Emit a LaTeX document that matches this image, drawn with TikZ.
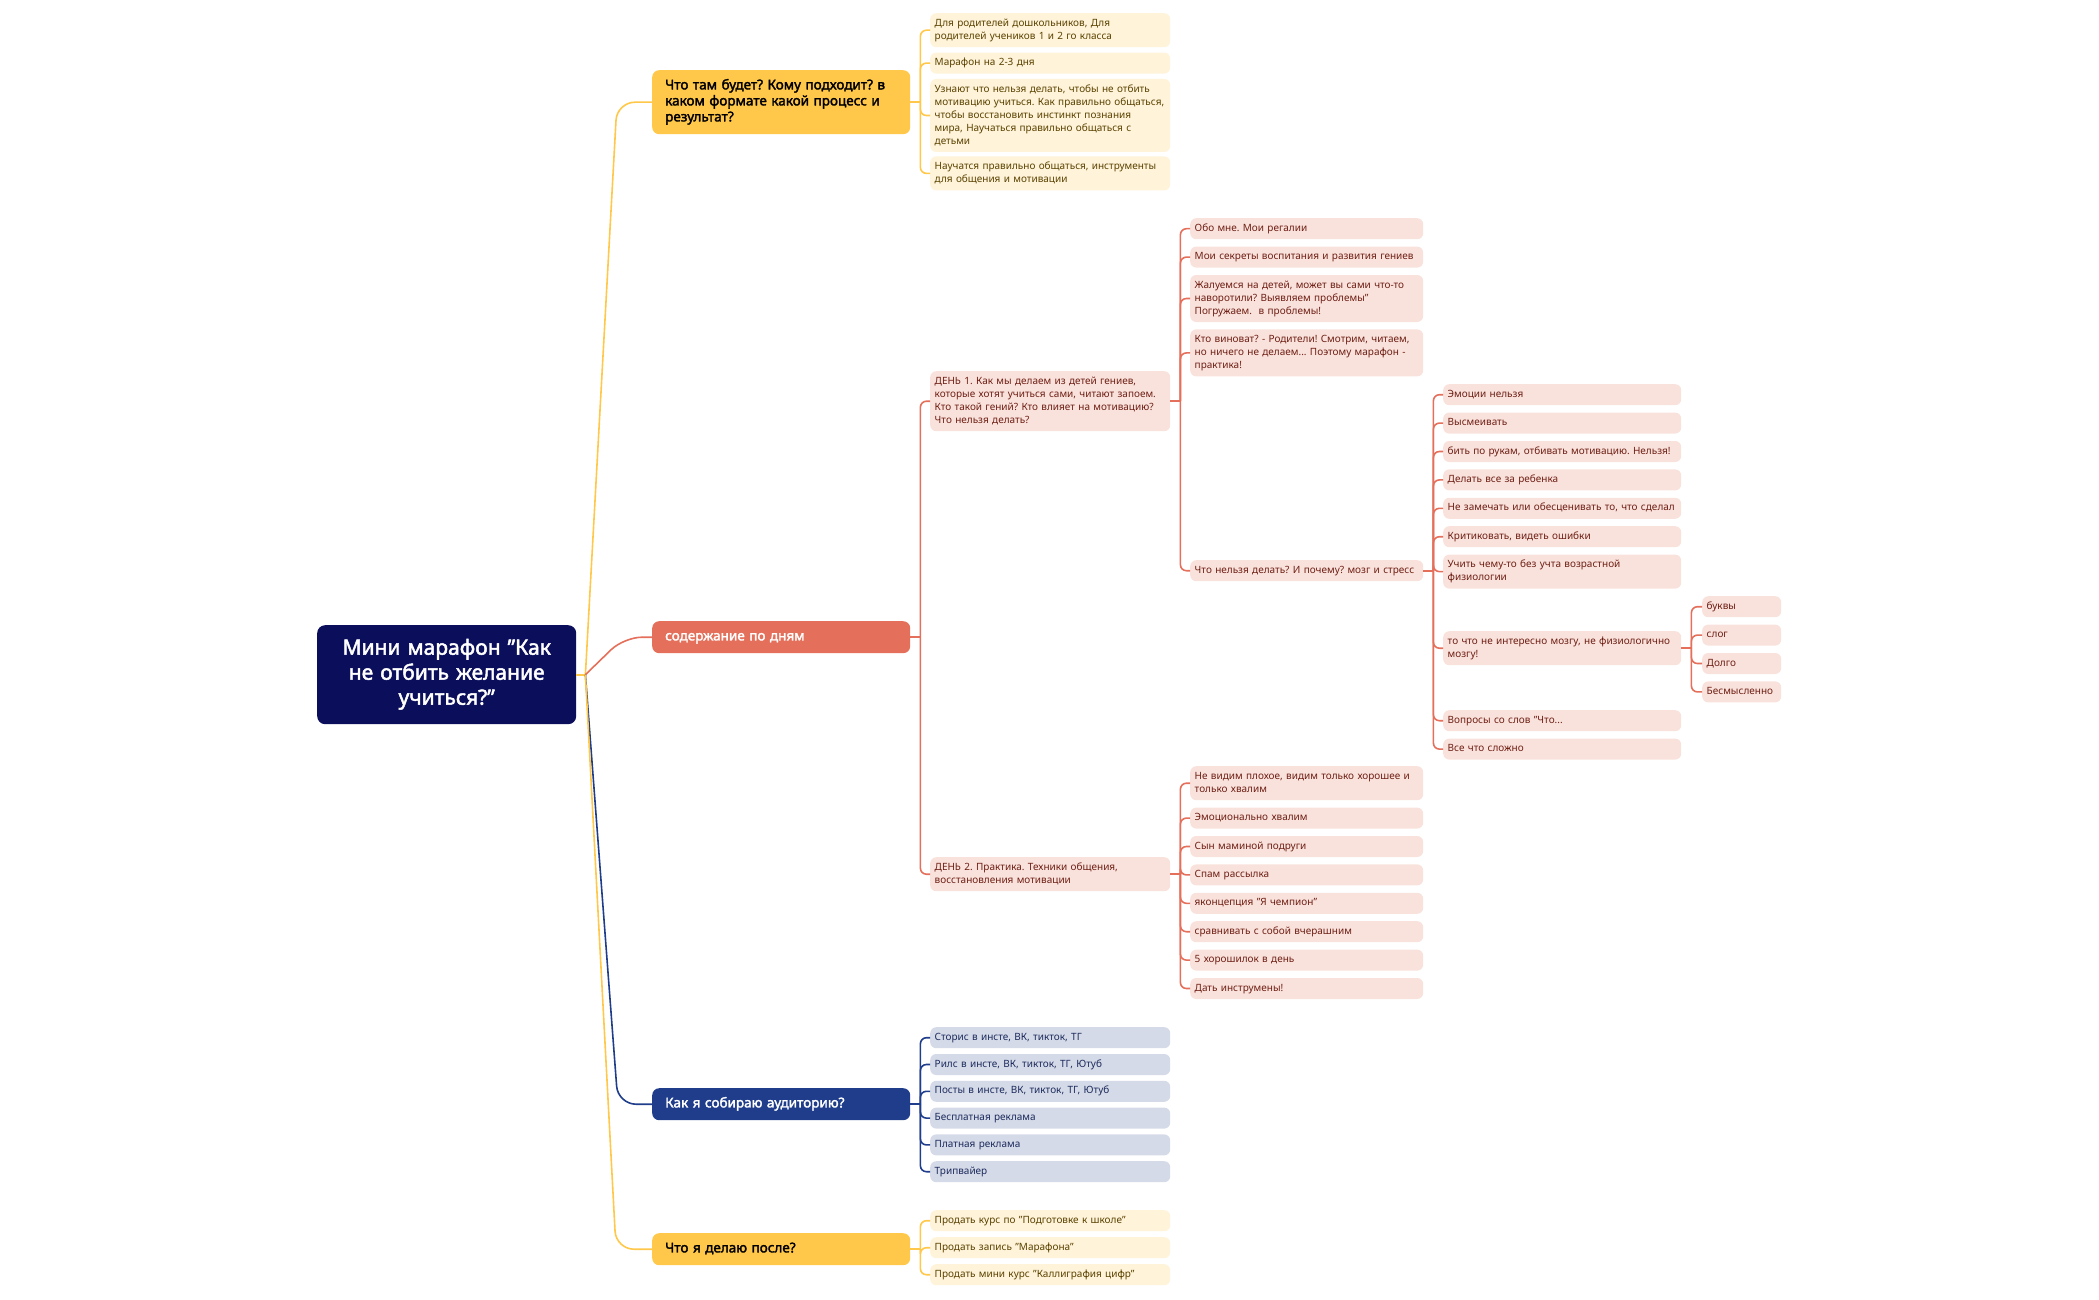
\documentclass[tikz,border=0pt]{standalone}
\usepackage{fontspec}
\setmainfont{Noto Sans}[AutoFakeBold=2.2]
\usetikzlibrary{positioning}
\frenchspacing

\definecolor{rootblue}{HTML}{0B0E5B}
\definecolor{sunny}{HTML}{FFC84A}
\definecolor{coral}{HTML}{E46F5A}
\definecolor{navy}{HTML}{1F3D8A}
\definecolor{sunnyleaf}{HTML}{FFF3D9}
\definecolor{coralleaf}{HTML}{FAE2DC}
\definecolor{navyleaf}{HTML}{D5DAE8}
\definecolor{sunnytext}{HTML}{5A4200}
\definecolor{coraltext}{HTML}{6D1F14}
\definecolor{navytext}{HTML}{1C2B5C}

\newcommand{\rootfont}{\fontsize{21}{25}\selectfont\bfseries}
\newcommand{\topicfont}{\fontsize{13.5}{16}\selectfont\bfseries}
\newcommand{\leaffont}{\fontsize{10}{13}\selectfont}

\begin{document}
\begin{tikzpicture}[x=1pt, y=-1pt,
  root/.style={rectangle, rounded corners=8pt, fill=rootblue, text=white, text width=235pt, inner xsep=12pt, inner ysep=12pt, align=center, font=\rootfont, anchor=north west, execute at begin node=\strut, execute at end node=\strut},
  topic/.style={rectangle, rounded corners=7pt, text width=232pt, inner xsep=13pt, inner ysep=8pt, align=left, font=\topicfont, anchor=north west, execute at begin node=\strut, execute at end node=\strut},
  leaf/.style={rectangle, rounded corners=6pt, inner xsep=4.5pt, inner ysep=4pt, align=left, font=\leaffont, anchor=north west, execute at begin node=\strut, execute at end node=\strut},
  yleaf/.style={leaf, fill=sunnyleaf, text=sunnytext, text width=231pt},
  bleaf/.style={leaf, fill=navyleaf, text=navytext, text width=231pt},
  rleaf/.style={leaf, fill=coralleaf, text=coraltext, text width=#1},
  rleaf/.default=224pt,
  ylink/.style={draw=sunny, line width=1.6pt},
  rlink/.style={draw=coral, line width=1.6pt},
  blink/.style={draw=navy, line width=1.6pt}]
\useasboundingbox (0,0) rectangle (2099,1300);

% centre and main topics
\node[root] (root) at (317,625) {Мини марафон "Как\\не отбить желание\\учиться?"};
\node[topic, fill=sunny, text=black] (what) at (652,70) {Что там будет? Кому подходит? в\\каком формате какой процесс и\\результат?};
\node[topic, fill=coral, text=white] (days) at (652,621) {содержание по дням};
\node[topic, fill=navy, text=white] (aud) at (652,1088) {Как я собираю аудиторию?};
\node[topic, fill=sunny, text=black] (after) at (652,1233) {Что я делаю после?};

% what
\node[yleaf] (what1) at (930,13) {Для родителей дошкольников, Для\\родителей учеников 1 и 2 го класса};
\node[yleaf, below=5pt of what1] (what2) {Марафон на 2-3 дня};
\node[yleaf, below=5pt of what2] (what3) {Узнают что нельзя делать, чтобы не отбить\\мотивацию учиться. Как правильно общаться,\\чтобы восстановить инстинкт познания\\мира, Научаться правильно общаться с\\детьми};
\node[yleaf, below=4pt of what3] (what4) {Научатся правильно общаться, инструменты\\для общения и мотивации};

% days
\node[rleaf=231pt] (day1) at (930,371) {ДЕНЬ 1. Как мы делаем из детей гениев,\\которые хотят учиться сами, читают запоем.\\Кто такой гений? Кто влияет на мотивацию?\\Что нельзя делать?};
\node[rleaf=231pt] (day2) at (930,857) {ДЕНЬ 2. Практика. Техники общения,\\восстановления мотивации};

\node[rleaf] (me1) at (1190,218) {Обо мне. Мои регалии};
\node[rleaf, below=7pt of me1] (me2) {Мои секреты воспитания и развития гениев};
\node[rleaf, below=7pt of me2] (me3) {Жалуемся на детей, может вы сами что-то\\наворотили? Выявляем проблемы"\\Погружаем.\ \ в проблемы!};
\node[rleaf, below=7pt of me3] (me4) {Кто виноват? - Родители! Смотрим, читаем,\\но ничего не делаем... Поэтому марафон -\\практика!};
\node[rleaf] (me5) at (1190,560) {Что нельзя делать? И почему? мозг и стресс};

\node[rleaf=229pt] (no1) at (1443,384) {Эмоции нельзя};
\node[rleaf=229pt, below=7pt of no1] (no2) {Высмеивать};
\node[rleaf=229pt, below=7pt of no2] (no3) {бить по рукам, отбивать мотивацию. Нельзя!};
\node[rleaf=229pt, below=7pt of no3] (no4) {Делать все за ребенка};
\node[rleaf=229pt, below=7pt of no4] (no5) {Не замечать или обесценивать то, что сделал};
\node[rleaf=229pt, below=7pt of no5] (no6) {Критиковать, видеть ошибки};
\node[rleaf=229pt, below=7pt of no6] (no7) {Учить чему-то без учта возрастной\\физиологии};
\node[rleaf=229pt] (no8) at (1443,631) {то что не интересно мозгу, не физиологично\\мозгу!};
\node[rleaf=229pt] (no9) at (1443,710) {Вопросы со слов "Что...};
\node[rleaf=229pt, below=7pt of no9] (no10) {Все что сложно};

\node[rleaf=70pt] (brain1) at (1702,596) {буквы};
\node[rleaf=70pt, below=7pt of brain1] (brain2) {слог};
\node[rleaf=70pt, below=7pt of brain2] (brain3) {Долго};
\node[rleaf=70pt, below=7pt of brain3] (brain4) {Бесмысленно};

\node[rleaf] (pr1) at (1190,766) {Не видим плохое, видим только хорошее и\\только хвалим};
\node[rleaf, below=7pt of pr1] (pr2) {Эмоционально хвалим};
\node[rleaf, below=7pt of pr2] (pr3) {Сын маминой подруги};
\node[rleaf, below=7pt of pr3] (pr4) {Спам рассылка};
\node[rleaf, below=7pt of pr4] (pr5) {яконцепция "Я чемпион"};
\node[rleaf, below=7pt of pr5] (pr6) {сравнивать с собой вчерашним};
\node[rleaf, below=7pt of pr6] (pr7) {5 хорошилок в день};
\node[rleaf, below=7pt of pr7] (pr8) {Дать инструмены!};

% audience
\node[bleaf] (aud1) at (930,1027) {Сторис в инсте, ВК, тикток, ТГ};
\node[bleaf, below=5.4pt of aud1] (aud2) {Рилс в инсте, ВК, тикток, ТГ, Ютуб};
\node[bleaf, below=5.4pt of aud2] (aud3) {Посты в инсте, ВК, тикток, ТГ, Ютуб};
\node[bleaf, below=5.4pt of aud3] (aud4) {Бесплатная реклама};
\node[bleaf, below=5.4pt of aud4] (aud5) {Платная реклама};
\node[bleaf, below=5.4pt of aud5] (aud6) {Трипвайер};

% after
\node[yleaf] (aft1) at (930,1210) {Продать курс по "Подготовке к школе"};
\node[yleaf, below=5.6pt of aft1] (aft2) {Продать запись "Марафона"};
\node[yleaf, below=5.6pt of aft2] (aft3) {Продать мини курс "Каллиграфия цифр"};

% links from the centre
\coordinate (jr) at ([xshift=9pt]root.east);
\draw[ylink] (root.east) -- (jr);
\draw[ylink, rounded corners=18pt] (jr) -- ([xshift=-35pt]what.west) -- (what.west);
\draw[rlink, rounded corners=18pt] (jr) -- ([xshift=-28pt]days.west) -- (days.west);
\draw[blink, rounded corners=18pt] (jr) -- ([xshift=-34pt]aud.west) -- (aud.west);
\draw[ylink, rounded corners=18pt] (jr) -- ([xshift=-36pt]after.west) -- (after.west);

% links to the leaves
\foreach \p/\kids/\lk in {what/{what1,what2,what3,what4}/ylink,
    days/{day1,day2}/rlink, day1/{me1,me2,me3,me4,me5}/rlink,
    me5/{no1,no2,no3,no4,no5,no6,no7,no8,no9,no10}/rlink,
    no8/{brain1,brain2,brain3,brain4}/rlink,
    day2/{pr1,pr2,pr3,pr4,pr5,pr6,pr7,pr8}/rlink,
    aud/{aud1,aud2,aud3,aud4,aud5,aud6}/blink,
    after/{aft1,aft2,aft3}/ylink}{
  \coordinate (j\p) at ([xshift=10pt]\p.east);
  \draw[\lk] (\p.east) -- (j\p);
  \foreach \k in \kids
    \draw[\lk, rounded corners=6pt] (j\p) |- (\k.west);
}
\end{tikzpicture}
\end{document}
